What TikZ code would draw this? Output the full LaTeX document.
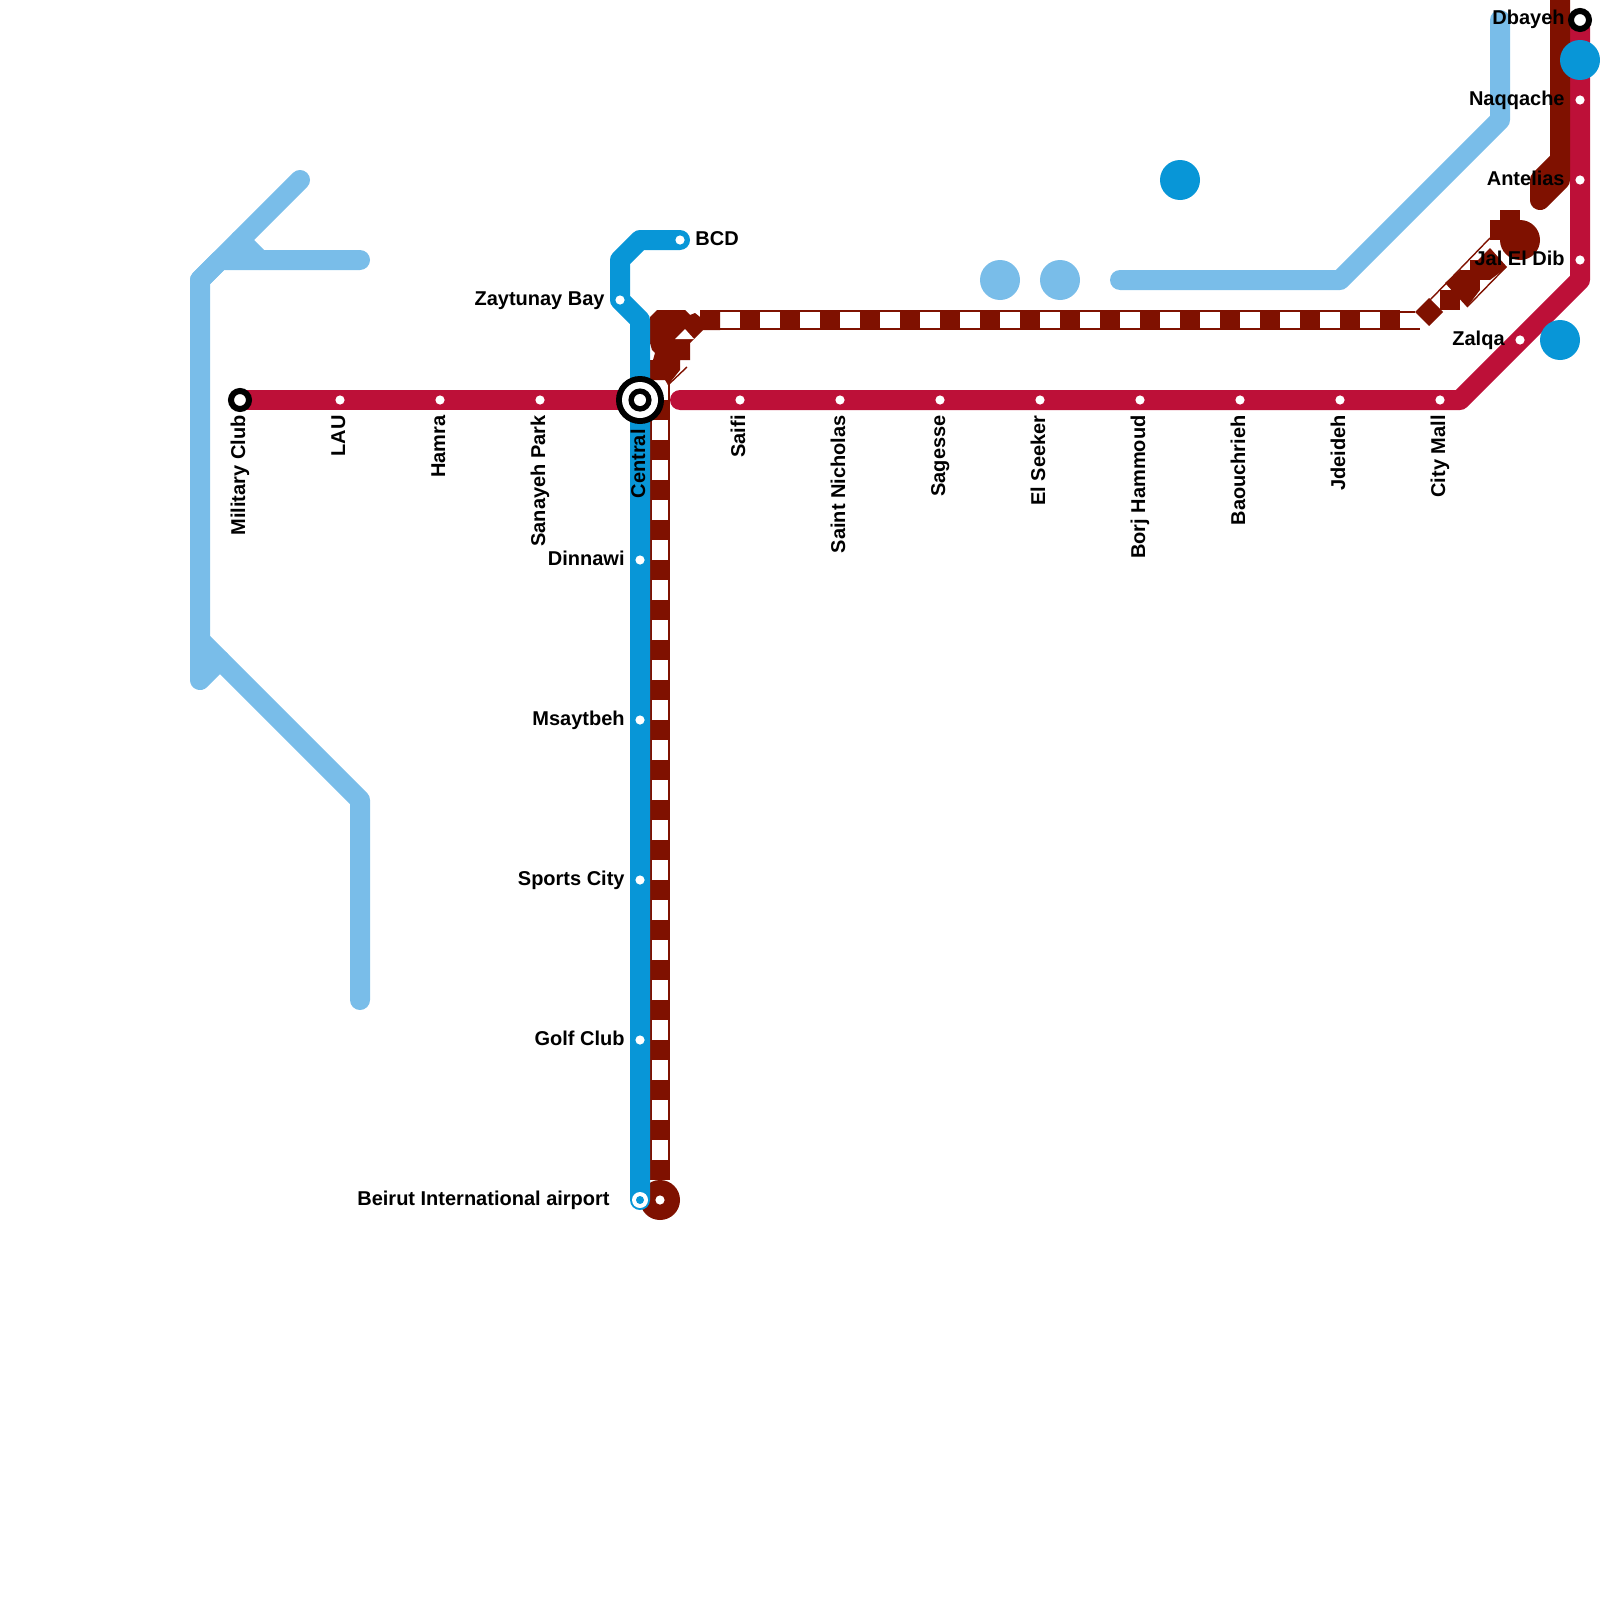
\documentclass[tikz,border=0pt]{standalone}
\usepackage{fontspec}
\setmainfont{Liberation Sans}
\definecolor{lblue}{HTML}{79BDE9}
\definecolor{mblue}{HTML}{0896D7}
\definecolor{crim}{HTML}{BD1038}
\definecolor{dred}{HTML}{7F1100}
\tikzset{
 lineL/.style={line width=10pt,line join=round,line cap=round},
 hatchdark/.style={line width=10pt,dred},
 hatchwhite/.style={line width=7.6pt,white,dash pattern=on 10pt off 10pt},
 stn/.style={circle,fill=white,draw=none,minimum size=4.6pt,inner sep=0pt},
 term/.style={circle,fill=white,draw=black,line width=3pt,minimum size=9pt,inner sep=0pt},
 bigdot/.style={circle,draw=none,minimum size=20pt,inner sep=0pt},
 lab/.style={font=\fontsize{10pt}{12pt}\bfseries,inner sep=0pt,text=black},
 hl/.style={lab,anchor=base east},
 hr/.style={lab,anchor=base west},
 vl/.style={lab,anchor=base east,rotate=90},
 dk/.style={fill=dred,draw=none},
}
\begin{document}
\begin{tikzpicture}[x=0.5pt,y=-0.5pt]
\useasboundingbox (0,0) rectangle (1600,1600);
% light blue
\draw[lineL,lblue] (300,180)--(200,280)--(200,680)--(220,660);
\draw[lineL,lblue] (200,280)--(220,260)--(360,260);
\draw[lineL,lblue] (240,240)--(260,260);
\draw[lineL,lblue] (200,640)--(360,800)--(360,1000);
\draw[lineL,lblue] (1120,280)--(1340,280)--(1500,120)--(1500,20);
\node[bigdot,fill=lblue] (lb1) at (1000,280) {};
\node[bigdot,fill=lblue] (lb2) at (1060,280) {};
% crimson
\coordinate (milc) at (240,400);
\coordinate (cen) at (640,400);
\coordinate (saif) at (680,400);
\coordinate (cr1) at (1460,400);
\coordinate (cr2) at (1580,280);
\coordinate (dbay) at (1580,20);
\draw[lineL,crim] (milc)--(cen);
\draw[lineL,crim] (saif)--(cr1)--(cr2)--(dbay);
% dark red upper right
\draw[lineL,dred] (1560,-10)--(1560,160)--(1540,180)--(1540,200)--(1560,180)--(1560,160);
% dark red hatch vertical
\coordinate (hv0) at (660,1180);
\coordinate (hv1) at (660,380);
\draw[hatchdark] (hv0)--(hv1);
\draw[hatchwhite] (660,1160)--(660,380);
\node[bigdot,fill=dred] (airpd) at (660,1200) {};
% dark red hatch horizontal
\coordinate (hh0) at (700,320);
\coordinate (hh1) at (1420,320);
\draw[hatchdark] (hh0)--(1400,320);
\draw[hatchwhite] (720,320)--(1420,320);
\fill[dred] (1400,311) rectangle (1415,313);
\fill[dred] (1400,327.5) rectangle (1420,329.5);
% blob near Central
\fill[dk] (650,317)--(657,310)--(685,310)--(690,315)--(695,313)--(700,317)--(700,310)--(720,310)--(720,330)--(703,330)--(690,343)--(690,360)--(680,360)--(680,370)--(668,385)--(665,380)--(650,380)--(650,360)--(653,360)--(655,353)--(652,350)--(650,343)--cycle;
\fill[white] (675,339)--(685,329)--(694,339)--cycle;
\draw[dred,line width=0.7pt] (668,385)--(687,367);
% hatch diagonal right
\draw[dred,line width=0.7pt] (1430,300)--(1490,238);
\draw[dred,line width=0.7pt] (1467,307)--(1506,267);
\fill[white] (1496,240)--(1500,240)--(1500,250)--(1493,250)--cycle;
\fill[dk] (1429,298)--(1443,312)--(1429,326)--(1415,312)--cycle;
\fill[dk] (1440,290) rectangle (1460,310);
\fill[dk] (1445,283)--(1460,270)--(1480,290)--(1467,307)--cycle;
\fill[dk] (1460,270) rectangle (1480,290);
\fill[dk] (1470,260) rectangle (1490,280);
\fill[dk] (1490,248)--(1507,267)--(1490,280)--(1476,262)--cycle;
\fill[dk] (1490,220) rectangle (1510,240);
\fill[dk] (1500,210) rectangle (1520,230);
\node[bigdot,fill=dred] (jal) at (1520,240) {};
% medium blue
\coordinate (bcd) at (680,240);
\coordinate (zay) at (620,300);
\coordinate (air) at (640,1200);
\draw[lineL,mblue] (bcd)--(640,240)--(620,260)--(zay)--(640,320)--(air);
\node[bigdot,fill=mblue] (mb1) at (1180,180) {};
\node[bigdot,fill=mblue] (mb2) at (1580,60) {};
\node[bigdot,fill=mblue] (mb3) at (1560,340) {};
% crimson left end over blue
\draw[line width=10pt,crim] (milc)--(cen);
% stations
\node[term] (s1) at (milc) {};
\foreach \n/\x in {s2/340,s3/440,s4/540,s6/740,s7/840,s8/940,s9/1040,s10/1140,s11/1240,s12/1340,s13/1440}
  \node[stn] (\n) at (\x,400) {};
\node[stn] (z) at (1520,340) {};
\node[stn] (j) at (1580,260) {};
\node[stn] (an) at (1580,180) {};
\node[stn] (na) at (1580,100) {};
\node[term] (db) at (dbay) {};
\node[stn] (b) at (bcd) {};
\node[stn] (zy) at (zay) {};
\node[stn] (d) at (640,560) {};
\node[stn] (m) at (640,720) {};
\node[stn] (sc) at (640,880) {};
\node[stn] (g) at (640,1040) {};
\node[circle,fill=white,minimum size=8pt,inner sep=0pt] (ar) at (air) {};
\node[circle,fill=mblue,minimum size=4pt,inner sep=0pt] (ar2) at (air) {};
\node[stn] (ad) at (airpd) {};
\node[circle,fill=black,minimum size=24pt,inner sep=0pt] (c1) at (cen) {};
\node[circle,fill=white,minimum size=18pt,inner sep=0pt] (c2) at (cen) {};
\node[circle,fill=black,minimum size=11.6pt,inner sep=0pt] (c3) at (cen) {};
\node[circle,fill=white,minimum size=6pt,inner sep=0pt] (c4) at (cen) {};
% labels
\node[vl] (t1) at (245,415) {Military Club};
\node[vl] at (345,415) {LAU};
\node[vl] at (445,415) {Hamra};
\node[vl] at (545,415) {Sanayeh Park};
\node[vl] at (645,429) {Central};
\node[vl] at (745,415) {Saifi};
\node[vl] at (845,415) {Saint Nicholas};
\node[vl] at (945,415) {Sagesse};
\node[vl] at (1045,415) {El Seeker};
\node[vl] at (1145,415) {Borj Hammoud};
\node[vl] at (1245,415) {Baouchrieh};
\node[vl] at (1345,415) {Jdeideh};
\node[vl] at (1445,415) {City Mall};
\node[hl] at (625,565) {Dinnawi};
\node[hl] at (625,725) {Msaytbeh};
\node[hl] at (625,885) {Sports City};
\node[hl] at (625,1045) {Golf Club};
\node[hl] at (610,1205) {Beirut International airport};
\node[hl] at (605,305) {Zaytunay Bay};
\node[hr] at (695,245) {BCD};
\node[hl] at (1505,345) {Zalqa};
\node[hl] at (1565,25) {Dbayeh};
\node[hl] at (1565,105) {Naqqache};
\node[hl] at (1565,185) {Antelias};
\node[hl] at (1565,265) {Jal El Dib};
\end{tikzpicture}
\end{document}
